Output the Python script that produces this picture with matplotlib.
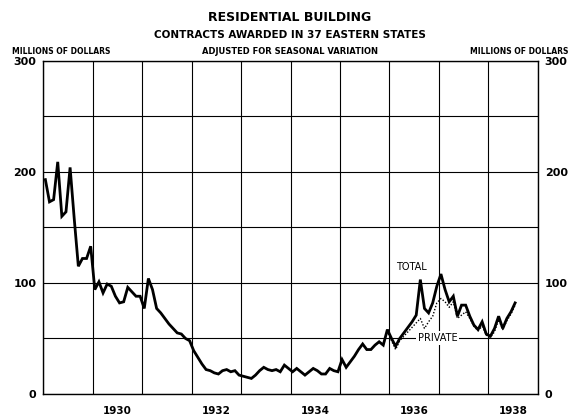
import numpy as np
import matplotlib
matplotlib.use('Agg')
import matplotlib.pyplot as plt

# Contrats de construction résidentielle, millions de dollars (mensuel, 1929 -> juillet 1938)
total = [
    193, 173, 175, 209, 160, 164, 204, 158, 115, 122, 122, 133,   # 1929
    94, 101, 91, 99, 97, 88, 82, 83, 96, 92, 88, 88,              # 1930
    77, 104, 94, 77, 73, 68, 63, 59, 55, 54, 50, 48,              # 1931
    39, 33, 27, 22, 21, 19, 18, 21, 22, 20, 21, 17,               # 1932
    16, 15, 14, 17, 21, 24, 22, 21, 22, 20, 26, 23,               # 1933
    20, 23, 20, 17, 20, 23, 21, 18, 18, 23, 21, 20,               # 1934
    31, 24, 29, 34, 40, 45, 40, 40, 44, 47, 44, 58,               # 1935
    50, 43, 50, 55, 60, 65, 71, 103, 77, 73, 82, 97,              # 1936
    108, 94, 83, 88, 70, 80, 80, 70, 62, 58, 65, 54,              # 1937
    52, 59, 70, 59, 68, 74, 82,                                   # 1938
]
# Série "privé" : commence en novembre 1935
private_start = 82
private = [
    44, 56,                                                       # 1935
    48, 40, 48, 52, 56, 60, 64, 68, 59, 65, 70, 82,               # 1936
    86, 83, 78, 83, 68, 71, 74, 68, 61, 57, 61, 53,               # 1937
    51, 56, 67, 58, 66, 72, 80,                                   # 1938
]
year_labels = ['1930', '1932', '1934', '1936', '1938']

x_total = 1929 + (np.arange(len(total)) + 0.5) / 12
x_private = 1929 + (np.arange(private_start, private_start + len(private)) + 0.5) / 12

fig = plt.figure(figsize=(5.79, 4.17), dpi=100)
ax = fig.add_axes([0.0748, 0.0552, 0.854, 0.799])

ax.plot(x_total, total, color='black', lw=2.0, solid_joinstyle='miter', zorder=3)
ax.plot(x_private, private, color='black', lw=1.0, linestyle=(0, (1, 1.3)), zorder=2)

ax.set_xlim(1929, 1939)
ax.set_ylim(0, 300)

ax.set_xticks(np.arange(1929, 1940))
ax.set_xticklabels([])
ax.set_xticks([int(y) + 0.5 for y in year_labels], minor=True)
ax.set_xticklabels(year_labels, minor=True)
ax.set_yticks([0, 100, 200, 300])
ax.set_yticks([50, 150, 250], minor=True)
ax.tick_params(axis='y', which='major', length=0, pad=5, labelleft=True, labelright=True)
ax.set_yticklabels(['0', '100', '200', '300'], fontsize=8, fontweight='bold')
ax.tick_params(axis='y', which='minor', length=0)
ax.tick_params(axis='x', which='both', length=0, pad=9)
for lab in ax.get_xticklabels(minor=True):
    lab.set_fontsize(7.5)
    lab.set_fontweight('bold')

# quadrillage : années en x, pas de 50 en y
ax.grid(True, axis='x', which='major', color='black', lw=0.8)
ax.grid(True, axis='y', which='both', color='black', lw=0.8)
for s in ax.spines.values():
    s.set_linewidth(1.0)

ax.text(1936.44, 114, 'TOTAL', fontsize=7, ha='center', va='center')
ax.text(1936.97, 50, 'PRIVATE', fontsize=7, ha='center', va='center',
        bbox=dict(facecolor='white', edgecolor='none', pad=1.5), zorder=4)

fig.text(0.5, 0.959, 'RESIDENTIAL BUILDING', fontsize=9, fontweight='bold', ha='center', va='center')
fig.text(0.5, 0.916, 'CONTRACTS AWARDED IN 37 EASTERN STATES', fontsize=7.5, fontweight='bold',
         ha='center', va='center')
fig.text(0.5, 0.876, 'ADJUSTED FOR SEASONAL VARIATION', fontsize=6, fontweight='bold',
         ha='center', va='center')
fig.text(0.021, 0.876, 'MILLIONS OF DOLLARS', fontsize=5.5, fontweight='bold', ha='left', va='center')
fig.text(0.981, 0.876, 'MILLIONS OF DOLLARS', fontsize=5.5, fontweight='bold', ha='right', va='center')

fig.savefig('out.png', dpi=100, facecolor='white')
